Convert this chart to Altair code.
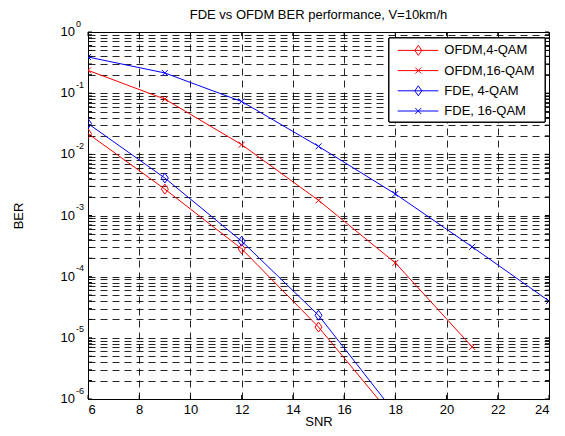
import altair as alt
import pandas as pd

# ---- data ----
snr_points = [6, 9, 12, 15, 18, 21, 24]
ofdm_4qam = [2.18e-2, 2.7e-3, 2.85e-4, 1.5e-5, 4.6e-7]
ofdm_16qam = [0.236, 0.080, 0.0144, 1.77e-3, 1.68e-4, 7.1e-6]
fde_4qam = [3.18e-2, 4.1e-3, 3.8e-4, 2.34e-5, 5.8e-7]
fde_16qam = [0.39, 0.214, 0.073, 0.0135, 2.25e-3, 3.07e-4, 4.0e-5]

series_names = ["OFDM,4-QAM", "OFDM,16-QAM", "FDE, 4-QAM", "FDE, 16-QAM"]
series_values = [ofdm_4qam, ofdm_16qam, fde_4qam, fde_16qam]
series_colors = ["#ff0000", "#ff0000", "#0000ff", "#0000ff"]

x_ticks = [6, 8, 10, 12, 14, 16, 18, 20, 22, 24]
y_exponents = [0, -1, -2, -3, -4, -5, -6]
minor_mult = [1, 2, 3, 4, 5, 6, 7, 8, 9]

title_text = ["FDE vs OFDM BER performance, V=10km/h"]
x_title = "SNR"
y_title = "BER"

# ---- tables ----
rows = []
for name, vals in zip(series_names, series_values):
    for s, v in zip(snr_points, vals):
        rows.append({"series": name, "snr": s, "ber": v})
df = pd.DataFrame(rows)

y_grid = [m * 10.0 ** e for e in y_exponents[1:] for m in minor_mult] + [1.0]
ygrid_df = pd.DataFrame({"ber": y_grid})
xtick_df = pd.DataFrame({"snr": x_ticks})
ylab_df = pd.DataFrame({"ber": [10.0 ** e for e in y_exponents],
                        "exp": [str(e) for e in y_exponents]})
legend_df = pd.DataFrame({"series": series_names})
title_df = pd.DataFrame({"t": title_text})

W, H = 461, 367
FONT = "Liberation Sans"

diamond_path = "M0,-1L0.7,0L0,1L-0.7,0Z"
x_path = "M-1,-1L1,1M-1,1L1,-1"

x_enc = alt.X("snr:Q",
              scale=alt.Scale(domain=[6, 24], nice=False, zero=False),
              axis=alt.Axis(values=x_ticks, grid=True, ticks=False, domain=False,
                            labelFontSize=13, labelFont=FONT, labelColor="black",
                            labelPadding=4, title=x_title, titleFont=FONT,
                            titleFontSize=13, titleFontWeight="normal",
                            titleColor="black", titleY=22, titleBaseline="middle"))
y_scale = alt.Scale(type="log", domain=[1e-6, 1], nice=False)
y_enc = alt.Y("ber:Q", scale=y_scale,
              axis=alt.Axis(values=y_grid, grid=True, ticks=False, domain=False,
                            labels=False, title=y_title, titleFont=FONT,
                            titleFontSize=13, titleFontWeight="normal",
                            titleColor="black", titleAngle=270, titleX=-70,
                            titleY=H / 2, titleAlign="center",
                            titleBaseline="middle"))

color_enc = alt.Color("series:N",
                      scale=alt.Scale(domain=series_names, range=series_colors),
                      legend=None)
shape_enc = alt.Shape("series:N",
                      scale=alt.Scale(domain=series_names,
                                      range=[diamond_path, x_path, diamond_path, x_path]),
                      legend=None)
size_enc = alt.condition("indexof(datum.series, '16') >= 0", alt.value(36), alt.value(100))

lines = alt.Chart(df).mark_line(strokeWidth=1, clip=True).encode(
    x=x_enc, y=y_enc, color=color_enc, detail="series:N")
points = alt.Chart(df).mark_point(filled=False, strokeWidth=1, clip=True, opacity=1).encode(
    x=x_enc, y=y_enc, color=color_enc, shape=shape_enc, size=size_enc)

# inward ticks on all four sides
yt_left = alt.Chart(ygrid_df).mark_rule(color="black", strokeWidth=1).encode(
    y=y_enc, x=alt.value(0), x2=alt.value(4))
yt_right = alt.Chart(ygrid_df).mark_rule(color="black", strokeWidth=1).encode(
    y=y_enc, x=alt.value(W - 4), x2=alt.value(W))
xt_bottom = alt.Chart(xtick_df).mark_rule(color="black", strokeWidth=1).encode(
    x=x_enc, y=alt.value(H - 4), y2=alt.value(H))
xt_top = alt.Chart(xtick_df).mark_rule(color="black", strokeWidth=1).encode(
    x=x_enc, y=alt.value(0), y2=alt.value(4))

# y tick labels 10^e
ylab_base = alt.Chart(ylab_df).mark_text(align="right", baseline="middle",
                                         fontSize=13, font=FONT, color="black").encode(
    y=y_enc, x=alt.value(-13), text=alt.value("10"))
ylab_exp = alt.Chart(ylab_df).mark_text(align="left", baseline="middle", dy=-8.5,
                                        fontSize=9, font=FONT, color="black").encode(
    y=y_enc, x=alt.value(-12), text="exp:N")

# chart title as a text mark
title_mark = alt.Chart(title_df).mark_text(align="center", baseline="middle", fontSize=13,
                                           font=FONT, color="black").encode(
    x=alt.value(W / 2), y=alt.value(-17), text="t:N")

main = alt.layer(lines, points, yt_left, yt_right, xt_bottom, xt_top,
                 ylab_base, ylab_exp, title_mark)

# legend box drawn with marks
leg_y = alt.Y("series:N", scale=alt.Scale(type="point", domain=series_names,
                                          range=[18.4, 79], padding=0), axis=None)
leg_box = alt.Chart(legend_df).mark_rect(fill="white", stroke="black", strokeWidth=1).encode(
    x=alt.value(301), x2=alt.value(457), y=alt.value(6), y2=alt.value(90))
leg_line = alt.Chart(legend_df).mark_rule(strokeWidth=1).encode(
    y=leg_y, x=alt.value(309.7), x2=alt.value(350.3), color=color_enc)
leg_pt = alt.Chart(legend_df).mark_point(filled=False, strokeWidth=1, opacity=1).encode(
    y=leg_y, x=alt.value(330.3), color=color_enc, shape=shape_enc, size=size_enc)
leg_text = alt.Chart(legend_df).mark_text(align="left", baseline="middle", fontSize=13,
                                          font=FONT, color="black").encode(
    y=leg_y, x=alt.value(356.3), text="series:N")
legend = alt.layer(leg_box, leg_line, leg_pt, leg_text)

chart = alt.layer(main, legend).resolve_scale(y="independent").properties(
    width=W, height=H,
    autosize=alt.AutoSizeParams(type="none"),
    padding={"left": 80, "top": 24, "right": 8, "bottom": 29},
).configure_view(stroke="black", strokeWidth=1).configure_axis(
    gridColor="#000000", gridDash=[7, 5], gridWidth=1, gridOpacity=0.85)

chart.save("out.html", embed_options={"renderer": "svg", "actions": False})
